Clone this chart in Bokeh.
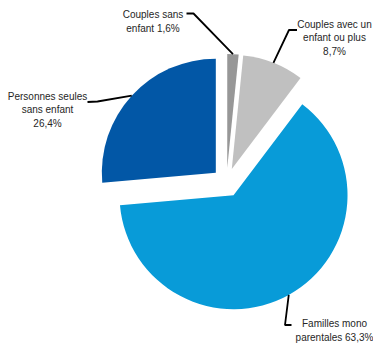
import math
from bokeh.plotting import figure
from bokeh.models import Range1d, ColumnDataSource
from bokeh.embed import file_html
from bokeh.resources import INLINE
from bokeh.core.properties import value

# ---- data ----
categories = ["Couples sans enfant", "Couples avec un enfant ou plus",
              "Familles mono parentales", "Personnes seules sans enfant"]
shares = [1.6, 8.7, 63.3, 26.4]
labels = ["Couples sans\nenfant 1,6%", "Couples avec un\nenfant ou plus\n8,7%",
          "Familles mono\nparentales 63,3%", "Personnes seules\nsans enfant\n26,4%"]
colors = ["#979797", "#c0c0c0", "#089bd8", "#0257a6"]

# ---- layout (screen pixels) ----
W, H = 373, 344
CX, CY = 226.0, 182.0      # pie centre (screen coords)
R = 114.0
EXPLODE = 14.5
# label centres and elbow points of leader lines (screen coords)
label_pos = [(152.5, 21.0), (334.0, 37.5), (334.0, 330.0), (47.0, 109.5)]
elbow_pos = [(193.0, 13.0), (288.5, 29.5), (284.5, 324.5), (97.0, 101.0)]
line_end = [(186.0, 13.0), (296.5, 29.5), (291.0, 324.5), (87.0, 101.5)]

p = figure(width=W, height=H, output_backend="svg", toolbar_location=None,
           x_range=Range1d(0, W), y_range=Range1d(-H, 0),
           x_axis_location=None, y_axis_location=None, min_border=0,
           outline_line_color=None)
p.grid.visible = False

total = sum(shares)
cum = 0.0
for i, s in enumerate(shares):
    t1 = cum / total * 360.0
    t2 = (cum + s) / total * 360.0
    cum += s
    tm = math.radians((t1 + t2) / 2)
    cx = CX + EXPLODE * math.sin(tm)
    cy = -CY + EXPLODE * math.cos(tm)
    p.wedge(x=[cx], y=[cy], radius=R,
            start_angle=[math.radians(90 - t2)], end_angle=[math.radians(90 - t1)],
            direction="anticlock", fill_color=colors[i], line_color=None)
    # leader line from slice edge at mid angle
    ex = cx + R * math.sin(tm)
    ey = cy + R * math.cos(tm)
    bx, by = elbow_pos[i]
    lx, ly = line_end[i]
    p.line(x=[ex, bx, lx], y=[ey, -by, -ly], line_color="black", line_width=1.8)

src = ColumnDataSource(dict(x=[lp[0] for lp in label_pos],
                            y=[-lp[1] for lp in label_pos], t=labels))
p.text(x="x", y="y", text="t", source=src, text_align="center",
       text_baseline="middle", text_font=value("Liberation Sans"),
       text_font_size="10px", text_color="#262626", text_line_height=1.2)

open("out.html", "w").write(file_html(p, INLINE))
